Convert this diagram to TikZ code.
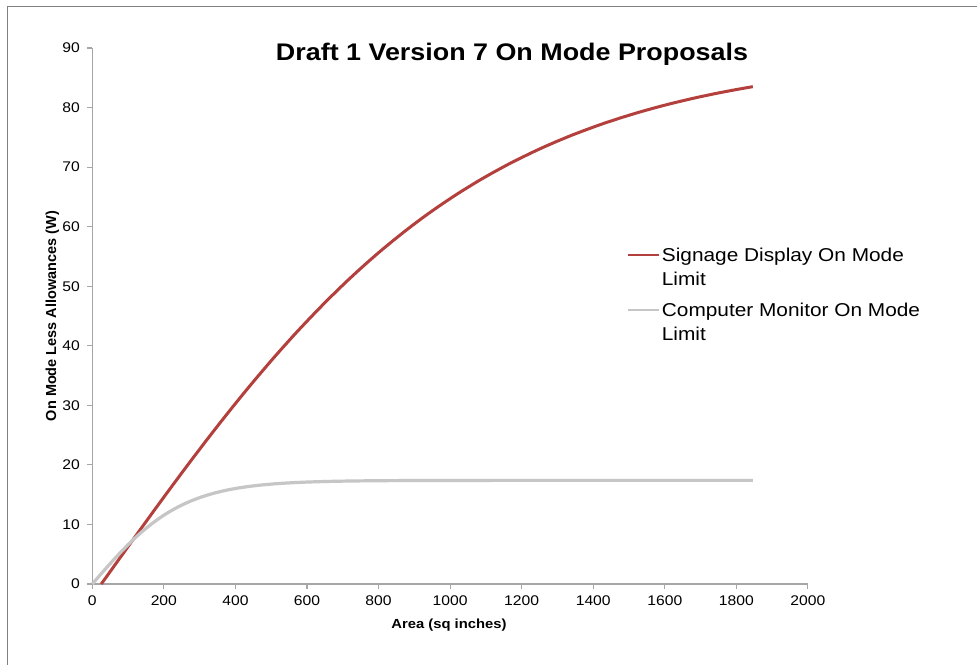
\documentclass[tikz,border=0pt]{standalone}
\usepackage{fontspec}
\setmainfont{Liberation Sans}
\usepackage{graphicx}
\definecolor{sigred}{HTML}{B3403D}
\definecolor{mongray}{HTML}{C6C6C6}
\definecolor{axisgray}{HTML}{A6A6A6}
\definecolor{framegray}{HTML}{808080}
\newcommand\hstretch[1]{\scalebox{1.12}[1]{#1}}
\begin{document}
\begin{tikzpicture}[x=1pt,y=-1pt,
  axisline/.style={draw=axisgray, line width=1.1pt},
  ticklab/.style={inner sep=0pt, font=\fontsize{14}{16}\selectfont},
  legtext/.style={inner sep=0pt, anchor=base west, font=\fontsize{18.6}{22}\selectfont},
  sigline/.style={draw=sigred, line width=3pt},
  monline/.style={draw=mongray, line width=3.2pt}]
\useasboundingbox (0,0) rectangle (977,664);
\fill[white] (0,0) rectangle (977,664);
% frame
\coordinate (fbl) at (7.5,680);
\coordinate (ftl) at (7.5,6.5);
\coordinate (ftr) at (995,6.5);
\draw[framegray, line width=1.6pt] (fbl) -- (ftl) -- (ftr);
% title
\node[inner sep=0pt, anchor=base, font=\bfseries\fontsize{24}{28}\selectfont] (title) at (512,60) {\hstretch{Draft 1 Version 7 On Mode Proposals}};
% axes
\coordinate (ytop) at (92.3,47.96);
\coordinate (orig) at (92.3,584);
\coordinate (xend) at (808,584);
\draw[axisline] (ytop) -- (orig) -- (xend);
\foreach \i in {0,...,10} {
  \pgfmathsetmacro\xx{92.3+71.56*\i}
  \pgfmathtruncatemacro\lab{200*\i}
  \coordinate (xa\i) at (\xx,584);
  \coordinate (xb\i) at (\xx,589);
  \draw[axisline] (xa\i) -- (xb\i);
  \node[ticklab, anchor=north] (xt\i) at (\xx,596) {\hstretch{\lab}};
}
\foreach \j in {0,...,9} {
  \pgfmathsetmacro\yy{584-59.56*\j}
  \pgfmathtruncatemacro\lab{10*\j}
  \coordinate (ya\j) at (87,\yy);
  \coordinate (yb\j) at (92.3,\yy);
  \draw[axisline] (ya\j) -- (yb\j);
  \node[ticklab, anchor=east] (yt\j) at (80,\yy) {\hstretch{\lab}};
}
% axis titles
\node[inner sep=0pt, anchor=base, font=\bfseries\fontsize{13.2}{16}\selectfont] (xlabel) at (449,628) {\hstretch{Area (sq inches)}};
\node[inner sep=0pt, anchor=base, rotate=90, font=\bfseries\fontsize{14.5}{17}\selectfont] (ylabel) at (56,316) {On Mode Less Allowances (W)};
% curves
\begin{scope}[shift={(92.3pt,-584pt)}, x=0.3578pt, y=5.956pt]
  \draw[sigline] plot[domain=25:1846, samples=120, smooth] (\x,{89*tanh(0.00094*(\x-25))});
  \draw[monline] plot[domain=0:1846, samples=120, smooth] (\x,{17.4*tanh(0.004*\x)});
\end{scope}
% legend
\coordinate (l1a) at (628,255);
\coordinate (l1b) at (659,255);
\coordinate (l2a) at (628,310);
\coordinate (l2b) at (659,310);
\draw[draw=sigred, line width=2.6pt] (l1a) -- (l1b);
\draw[draw=mongray, line width=2.6pt] (l2a) -- (l2b);
\node[legtext] (leg1a) at (661.7,261.7) {\hstretch{Signage Display On Mode}};
\node[legtext] (leg1b) at (661.7,285) {\hstretch{Limit}};
\node[legtext] (leg2a) at (661.7,316) {\hstretch{Computer Monitor On Mode}};
\node[legtext] (leg2b) at (661.7,340) {\hstretch{Limit}};
\end{tikzpicture}
\end{document}
